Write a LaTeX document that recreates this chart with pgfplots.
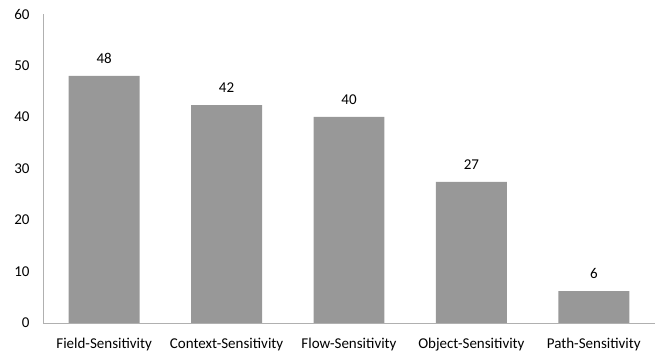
\documentclass[border=0pt]{standalone}
\usepackage{fontspec}
\setmainfont{Carlito}
\usepackage{pgfplots}
\pgfplotsset{compat=1.18}
\definecolor{barg}{HTML}{989898}
\definecolor{axg}{HTML}{B0B0B0}
\begin{document}
\begin{tikzpicture}
\begin{axis}[
  at={(0,0)}, anchor=south west,
  scale only axis, width=612pt, height=309pt,
  xmin=-0.5, xmax=4.5, ymin=0, ymax=60,
  ytick={0,10,...,60},
  xtick=data,
  xticklabels={Field-Sensitivity,Context-Sensitivity,Flow-Sensitivity,Object-Sensitivity,Path-Sensitivity},
  axis x line*=bottom, axis y line*=left,
  axis line style={axg, line width=0.8pt, -},
  major tick length=0pt,
  tick label style={font=\fontsize{15}{18}\selectfont, black},
  /pgf/number format/assume math mode=true,
  yticklabel style={xshift=-10pt},
  xticklabel style={yshift=-12pt},
  ybar, bar width=0.58,
  point meta=explicit symbolic,
  nodes near coords,
  nodes near coords style={font=\fontsize{15}{18}\selectfont, black, anchor=south, yshift=9pt},
]
\addplot[fill=barg, draw=none] coordinates {
  (0,48) [48]
  (1,42.3) [42]
  (2,40) [40]
  (3,27.4) [27]
  (4,6.2) [6]
};
\end{axis}
\pgfresetboundingbox
\path (-43pt,-30pt) rectangle (619pt,323pt);
\end{tikzpicture}
\end{document}
